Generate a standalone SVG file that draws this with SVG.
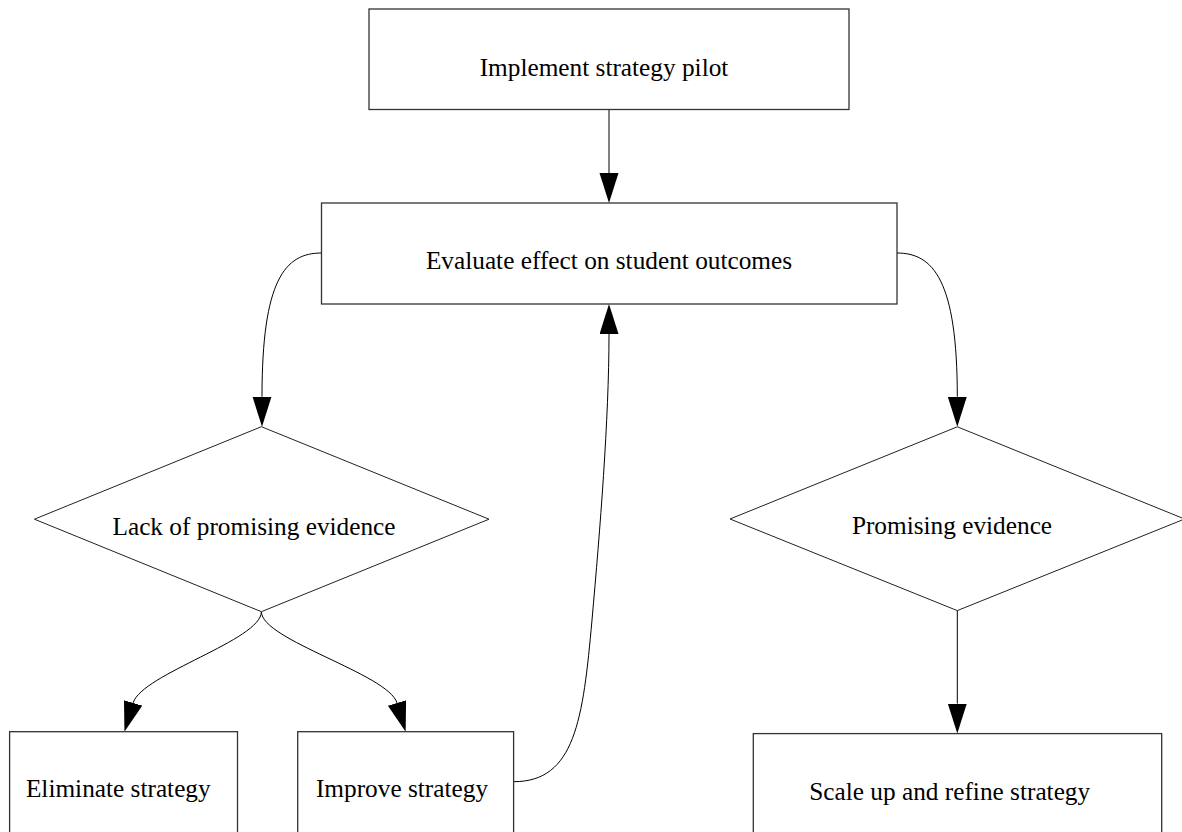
<svg xmlns="http://www.w3.org/2000/svg" width="1182" height="832" viewBox="0 0 1182 832">
<style>
.box{fill:#fff;stroke:#333;stroke-width:1.3}
.dia{fill:#fff;stroke:#222;stroke-width:1}
.lbl{font-family:"Liberation Serif","Times New Roman",serif;font-size:25.3px;fill:#000;text-anchor:middle}
.edge{fill:none;stroke:#000;stroke-width:1}
</style>
<defs>
<marker id="ah" markerUnits="userSpaceOnUse" markerWidth="31" markerHeight="20" refX="0" refY="9.5" orient="auto" viewBox="0 0 31 20">
<path d="M0,0 L30,9.5 L0,19 z" fill="#000"/>
</marker>
</defs>
<rect width="1182" height="832" fill="#fff"/>
<g id="connectors">
<path class="edge" d="M609,109.5 L609,173" marker-end="url(#ah)"/>
<path class="edge" d="M321.5,253 C285,253 262,280 262,396.7" marker-end="url(#ah)"/>
<path class="edge" d="M897,253 C933,253 957.3,280 957.3,396.8" marker-end="url(#ah)"/>
<path class="edge" d="M261.4,611.7 C261.4,640 141.8,674 133.1,702.9" marker-end="url(#ah)"/>
<path class="edge" d="M261.4,611.7 C261.4,640 388.3,674 397,702.9" marker-end="url(#ah)"/>
<path class="edge" d="M513.6,781.7 C575,781.7 583,720 592,620 C600,530 609,420 609,334" marker-end="url(#ah)"/>
<path class="edge" d="M957.3,610.6 L957.3,703.6" marker-end="url(#ah)"/>
</g>
<g id="implement">
<rect class="box" x="369" y="9" width="480" height="100.5"/>
<text class="lbl" x="604" y="76.3">Implement strategy pilot</text>
</g>
<g id="evaluate">
<rect class="box" x="321.5" y="203" width="575.5" height="101"/>
<text class="lbl" x="609" y="269">Evaluate effect on student outcomes</text>
</g>
<g id="lack">
<polygon class="dia" points="261.4,426.7 489,519.2 261.4,611.7 34.4,519.2"/>
<text class="lbl" x="254" y="535">Lack of promising evidence</text>
</g>
<g id="promising">
<polygon class="dia" points="957.3,426.8 1184.6,519 957.3,610.6 730,519"/>
<text class="lbl" x="952" y="534.3">Promising evidence</text>
</g>
<g id="eliminate">
<rect class="box" x="9.6" y="731.7" width="227.9" height="110"/>
<text class="lbl" x="118.3" y="796.7">Eliminate strategy</text>
</g>
<g id="improve">
<rect class="box" x="297.7" y="731.7" width="215.9" height="110"/>
<text class="lbl" x="402" y="797">Improve strategy</text>
</g>
<g id="scaleup">
<rect class="box" x="753.3" y="733.6" width="408.4" height="110"/>
<text class="lbl" x="949.7" y="800.4">Scale up and refine strategy</text>
</g>
</svg>
